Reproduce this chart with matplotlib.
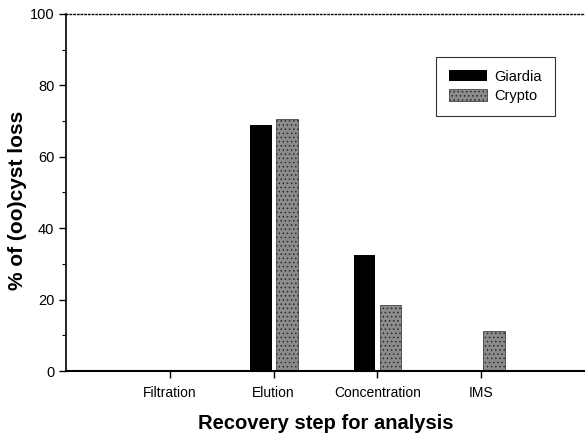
import matplotlib.pyplot as plt
import numpy as np

plt.rcParams['font.family'] = ['Liberation Sans', 'DejaVu Sans']
plt.rcParams['hatch.linewidth'] = 0.6

# Data
categories = ["Filtration", "Elution", "Concentration", "IMS"]
giardia = [0.2, 68.8, 32.6, 0.3]
crypto = [0.3, 70.6, 18.5, 11.2]

x = np.arange(1, len(categories) + 1)
width = 0.21

fig = plt.figure(figsize=(5.85, 4.36), dpi=100)
ax = fig.add_axes([0.113, 0.149, 0.887, 0.819])

ax.bar(x - 0.125, giardia, width, color="black", label="Giardia")
ax.bar(x + 0.125, crypto, width, facecolor="#8c8c8c", edgecolor="#2a2a2a",
       hatch="....", linewidth=0.5, label="Crypto")

ax.set_xlim(0, 5)
ax.set_ylim(0, 100)
ax.set_xticks(x)
ax.set_xticklabels(categories, fontsize=10)
ax.set_yticks([0, 20, 40, 60, 80, 100])
ax.set_yticks(np.arange(10, 100, 20), minor=True)
ax.tick_params(axis="y", labelsize=10.5, direction="out", length=5, width=1)
ax.tick_params(axis="y", which="minor", length=3, width=0.8)
ax.tick_params(axis="x", direction="out", length=5, width=1, pad=6)

ax.spines["right"].set_visible(False)
ax.spines["top"].set_linestyle(":")
ax.spines["top"].set_linewidth(1)
ax.spines["bottom"].set_linewidth(1.5)
ax.spines["left"].set_linewidth(1.2)

ax.set_xlabel("Recovery step for analysis", fontsize=14.5, fontweight="bold", labelpad=10)
fig.text(0.03, 0.54, "% of (oo)cyst loss", rotation=90, fontsize=15,
         fontweight="bold", ha="center", va="center")

leg = ax.legend(loc="upper right", bbox_to_anchor=(0.942, 0.88), fontsize=10.5,
                frameon=True, fancybox=False, edgecolor="black",
                handlelength=2.6, handleheight=0.8, handletextpad=0.5,
                labelspacing=0.35, borderpad=0.9, borderaxespad=0)
leg.get_frame().set_linewidth(0.8)

fig.savefig("out.png", dpi=100)
